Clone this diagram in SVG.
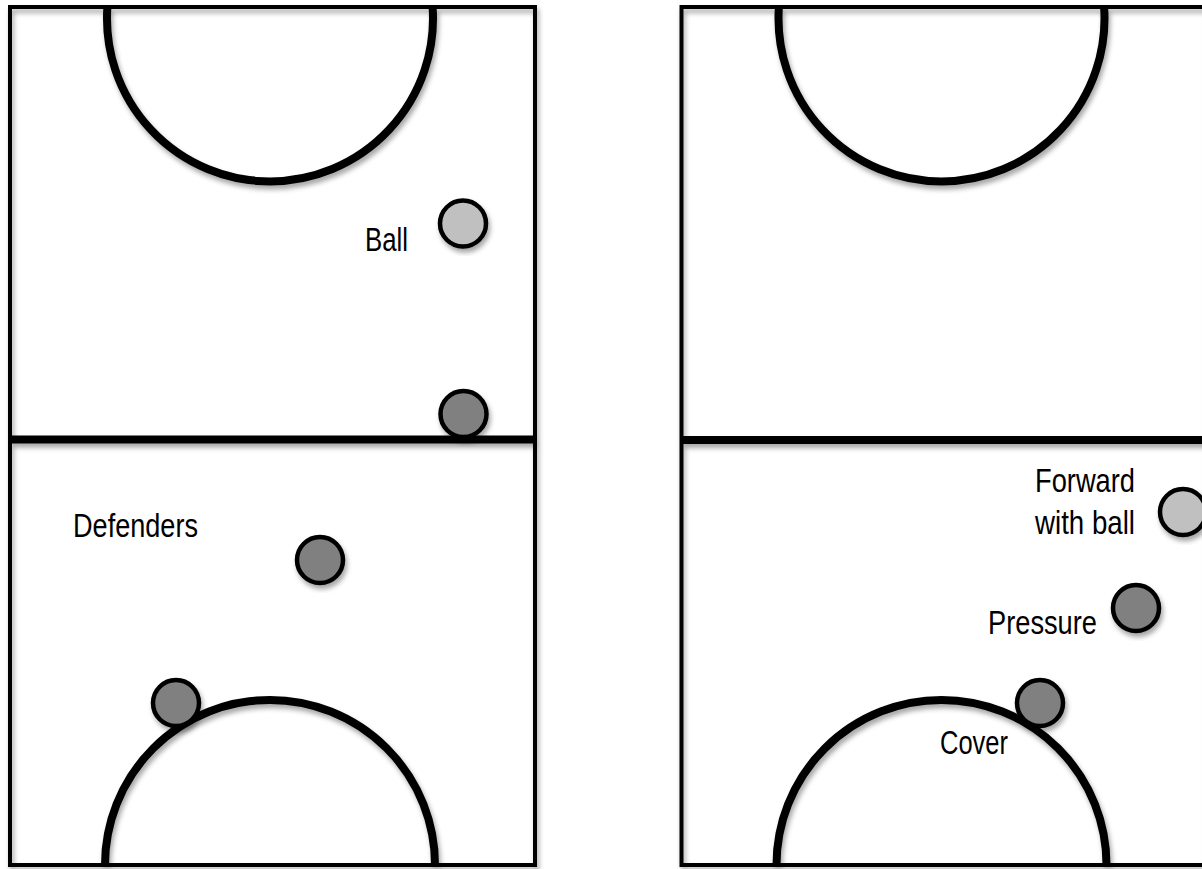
<svg xmlns="http://www.w3.org/2000/svg" width="1202" height="869" viewBox="0 0 1202 869">
  <defs>
    <filter id="sh" x="-20%" y="-20%" width="140%" height="140%">
      <feDropShadow dx="2" dy="4" stdDeviation="2.5" flood-color="#000" flood-opacity="0.35"/>
    </filter>
  </defs>
  <style>
    .court { fill: none; stroke: #000; stroke-width: 4; }
    .line { fill: none; stroke: #000; stroke-width: 8; }
    .p { stroke: #000; stroke-width: 4.5; }
    .light { fill: #c0c0c0; }
    .dark { fill: #808080; }
    text { font-family: "Liberation Sans", Arial, sans-serif; font-size: 33px; fill: #000; }
  </style>
  <rect width="1202" height="869" fill="#fff"/>

  <g id="court-left" filter="url(#sh)">
    <rect class="court" x="10" y="7" width="525" height="858"/>
    <line class="line" x1="10" y1="439.5" x2="535" y2="439.5"/>
    <path class="line" d="M 107.4 7 A 163 163 0 1 0 432.6 7"/>
    <path class="line" d="M 105 865 A 165 165 0 1 1 435 865"/>
  </g>

  <g id="court-right" filter="url(#sh)">
    <rect class="court" x="681.5" y="7" width="525" height="858"/>
    <line class="line" x1="681.5" y1="440" x2="1206.5" y2="440"/>
    <path class="line" d="M 778.9 7 A 163 163 0 1 0 1104.1 7"/>
    <path class="line" d="M 776.5 865 A 165 165 0 1 1 1106.5 865"/>
  </g>

  <g id="connectors"></g>

  <g id="ball-left" filter="url(#sh)">
    <circle class="p light" cx="463" cy="223.5" r="23"/>
  </g>
  <g id="label-ball">
    <text x="365" y="251" textLength="43" lengthAdjust="spacingAndGlyphs">Ball</text>
  </g>
  <g id="defender-mid" filter="url(#sh)">
    <circle class="p dark" cx="463.5" cy="414" r="23"/>
  </g>
  <g id="defender-2" filter="url(#sh)">
    <circle class="p dark" cx="320" cy="560" r="23"/>
  </g>
  <g id="label-defenders">
    <text x="73" y="537" textLength="125" lengthAdjust="spacingAndGlyphs">Defenders</text>
  </g>
  <g id="defender-3" filter="url(#sh)">
    <circle class="p dark" cx="176" cy="703" r="23"/>
  </g>

  <g id="forward" filter="url(#sh)">
    <circle class="p light" cx="1183" cy="512" r="23"/>
  </g>
  <g id="label-forward">
    <text x="1135" y="492" text-anchor="end" textLength="100" lengthAdjust="spacingAndGlyphs">Forward</text>
    <text x="1135" y="534" text-anchor="end" textLength="100" lengthAdjust="spacingAndGlyphs">with ball</text>
  </g>
  <g id="pressure" filter="url(#sh)">
    <circle class="p dark" cx="1136" cy="608" r="23"/>
  </g>
  <g id="label-pressure">
    <text x="988" y="634" textLength="109" lengthAdjust="spacingAndGlyphs">Pressure</text>
  </g>
  <g id="cover" filter="url(#sh)">
    <circle class="p dark" cx="1040" cy="703" r="23"/>
  </g>
  <g id="label-cover">
    <text x="940" y="754" textLength="68" lengthAdjust="spacingAndGlyphs">Cover</text>
  </g>
</svg>
